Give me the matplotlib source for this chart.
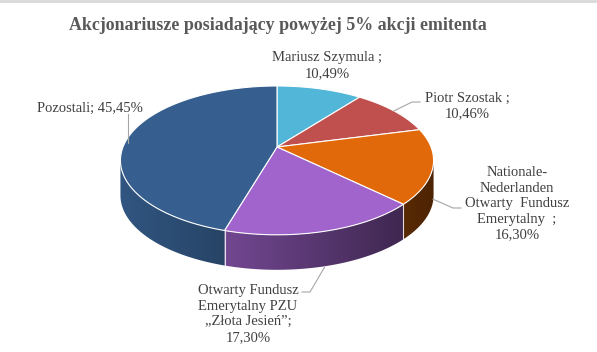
import numpy as np
import matplotlib.pyplot as plt
from matplotlib.patches import Polygon

plt.rcParams['font.family'] = ['Liberation Serif', 'DejaVu Serif']

# data
names = ["Mariusz Szymula ;\n10,49%",
         "Piotr Szostak ;\n10,46%",
         "Nationale-\nNederlanden\nOtwarty  Fundusz\nEmerytalny  ;\n16,30%",
         "Otwarty Fundusz\nEmerytalny PZU\n\u201eZłota Jesień\u201d;\n17,30%",
         "Pozostali; 45,45%"]
values = [10.49, 10.46, 16.30, 17.30, 45.45]
top_colors = ["#52b6d8", "#c0504d", "#e2690a", "#a064cc", "#365f8f"]
title = "Akcjonariusze posiadający powyżej 5% akcji emitenta"

# label placement (pixels) and whether the leader starts at the bottom of the side
label_xy = [(327, 65.5), (467, 106), (517, 204), (248, 314), (90, 108)]
leader_bottom = [False, False, True, True, False]

CX, CY, A, B, K, DEPTH = 277, 147, 154, 72, -0.18, 35


def proj(theta, r=1.0):
    u = r * np.sin(theta)
    v = -r * np.cos(theta)
    w = 1 + K * v
    return CX + A * u / w, CY + B * v / w


def shade(hexcol, x):
    f = 0.9 - 0.56 * (x - 120) / 314
    c = np.array([int(hexcol[i:i + 2], 16) for i in (1, 3, 5)]) / 255
    return np.clip(np.outer(f, c), 0, 1)


fig = plt.figure(figsize=(5.97, 3.52), dpi=100)
ax = fig.add_axes([0, 0, 1, 1])
ax.set_xlim(0, 597)
ax.set_ylim(352, 0)
ax.axis('off')
ax.plot([0, 597], [0.8, 0.8], color="#d9d9d9", lw=2)

bounds = np.concatenate([[0], np.cumsum(values)]) / sum(values) * 2 * np.pi
th_r = np.arccos(K)          # rightmost point of the rim
th_l = 2 * np.pi - th_r      # leftmost point of the rim

# side of the cake, shaded left to right
gx = np.linspace(110, 445, 300)
for i, col in enumerate(top_colors):
    a0 = max(bounds[i], th_r)
    a1 = min(bounds[i + 1], th_l)
    if a1 <= a0:
        continue
    ts = np.linspace(a0, a1, 120)
    xs, ys = proj(ts)
    pts = list(zip(xs, ys)) + list(zip(xs[::-1], ys[::-1] + DEPTH))
    poly = Polygon(pts, closed=True, facecolor="none", edgecolor="none")
    ax.add_patch(poly)
    img = shade(col, gx)[np.newaxis, :, :]
    im = ax.imshow(img, extent=[gx[0], gx[-1], 300, 80], aspect="auto",
                   interpolation="bilinear", zorder=1)
    im.set_clip_path(poly)
for b in bounds[1:-1]:
    if th_r < b < th_l:
        x, y = proj(b)
        ax.plot([x, x], [y, y + DEPTH], color="white", lw=0.8, alpha=0.8, zorder=2)
ax.set_xlim(0, 597)
ax.set_ylim(352, 0)

# top face
for i, col in enumerate(top_colors):
    ts = np.linspace(bounds[i], bounds[i + 1], 100)
    xs, ys = proj(ts)
    pts = [(CX, CY)] + list(zip(xs, ys))
    ax.add_patch(Polygon(pts, closed=True, facecolor=col, edgecolor="white",
                         lw=0.8, zorder=3))

# labels with leader lines
for i, name in enumerate(names):
    lx, ly = label_xy[i]
    ax.text(lx, ly, name, ha="center", va="center", fontsize=10.5,
            color="#404040", linespacing=1.25)
    mid = (bounds[i] + bounds[i + 1]) / 2
    px, py = proj(mid)
    if leader_bottom[i]:
        py += DEPTH
    if i == 1:
        ax.plot([px, 412, 420], [py, 102, 102], color="#a6a6a6", lw=0.8, zorder=4)
    elif i == 2:
        ax.plot([px, 453, 461], [py - 2, 208, 208], color="#a6a6a6", lw=0.8, zorder=4)
    elif i == 3:
        ax.plot([px, 310, 302], [py + 1, 292, 292], color="#a6a6a6", lw=0.8, zorder=4)
    elif i == 4:
        ax.plot([px, px], [py + 6, 114], color="#a6a6a6", lw=0.8, zorder=4)

ax.text(277.5, 25, title, ha="center", va="center", fontsize=12.9,
        fontweight="bold", color="#595959")

fig.savefig("out.png", dpi=100)
